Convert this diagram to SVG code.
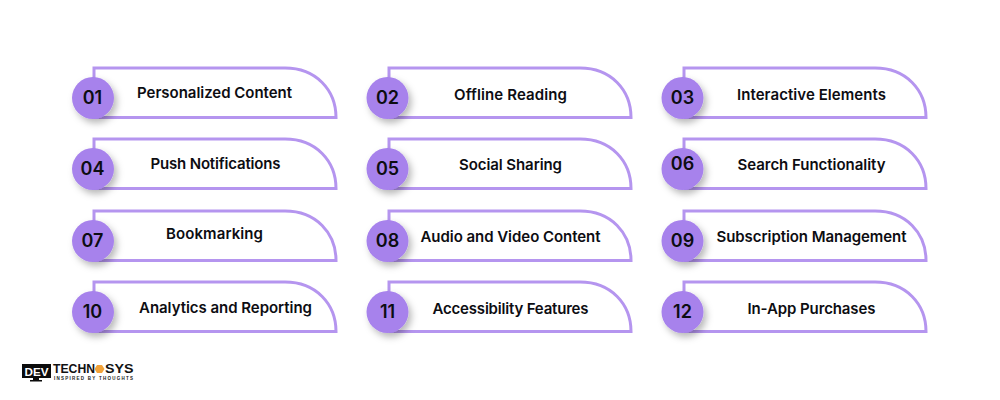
<svg xmlns="http://www.w3.org/2000/svg" width="1000" height="400" viewBox="0 0 1000 400">
<defs>
<filter id="sh" x="-40%" y="-40%" width="190%" height="190%"><feDropShadow dx="3" dy="4" stdDeviation="3.5" flood-color="#000" flood-opacity="0.28"/></filter>
<path id="card" d="M0 10V0H191C222 0 242 22 242 49.500H0" fill="none" stroke="#b595ef" stroke-width="3"/>
</defs>
<style>
.c{fill:#a782ec;filter:url(#sh)}
.l{font-family:"Inter","Liberation Sans",sans-serif;font-weight:600;font-size:15px;fill:#0d0d12;text-anchor:middle}
.n{font-family:"Inter","Liberation Sans",sans-serif;font-weight:600;font-size:18px;fill:#0d0d12;text-anchor:middle}
.b{font-family:"Liberation Sans",sans-serif;font-weight:700;fill:#111}
</style>
<rect width="1000" height="400" fill="#fff"/>
<g id="node-01"><use href="#card" x="94" y="68"/><circle class="c" cx="93" cy="98" r="21"/><text class="n" x="92.500" y="104">01</text><text class="l" x="214.500" y="98" textLength="155">Personalized Content</text></g>
<g id="node-02"><use href="#card" x="389" y="68"/><circle class="c" cx="387.500" cy="98" r="21"/><text class="n" x="387.500" y="104">02</text><text class="l" x="510.500" y="100" textLength="113">Offline Reading</text></g>
<g id="node-03"><use href="#card" x="684" y="68"/><circle class="c" cx="682.500" cy="98" r="21"/><text class="n" x="682.500" y="104">03</text><text class="l" x="811.500" y="100" textLength="149">Interactive Elements</text></g>
<g id="node-04"><use href="#card" x="94" y="139"/><circle class="c" cx="93" cy="169" r="21"/><text class="n" x="92.500" y="175">04</text><text class="l" x="215.500" y="169" textLength="130">Push Notifications</text></g>
<g id="node-05"><use href="#card" x="389" y="139"/><circle class="c" cx="387.500" cy="169" r="21"/><text class="n" x="387.500" y="175">05</text><text class="l" x="510.500" y="170" textLength="103">Social Sharing</text></g>
<g id="node-06"><use href="#card" x="684" y="139"/><circle class="c" cx="682.500" cy="169" r="21"/><text class="n" x="682.500" y="170">06</text><text class="l" x="811.500" y="170" textLength="148">Search Functionality</text></g>
<g id="node-07"><use href="#card" x="94" y="211"/><circle class="c" cx="93" cy="241" r="21"/><text class="n" x="92.500" y="247">07</text><text class="l" x="214.500" y="239" textLength="97">Bookmarking</text></g>
<g id="node-08"><use href="#card" x="389" y="211"/><circle class="c" cx="387.500" cy="241" r="21"/><text class="n" x="387.500" y="247">08</text><text class="l" x="510.500" y="242" textLength="180">Audio and Video Content</text></g>
<g id="node-09"><use href="#card" x="684" y="211"/><circle class="c" cx="682.500" cy="241" r="21"/><text class="n" x="682.500" y="247">09</text><text class="l" x="811.500" y="242" textLength="190">Subscription Management</text></g>
<g id="node-10"><use href="#card" x="94" y="282"/><circle class="c" cx="93" cy="312" r="21"/><text class="n" x="92.500" y="318">10</text><text class="l" x="225.500" y="313" textLength="173">Analytics and Reporting</text></g>
<g id="node-11"><use href="#card" x="389" y="282"/><circle class="c" cx="387.500" cy="312" r="21"/><text class="n" x="387.500" y="318">11</text><text class="l" x="510.500" y="314" textLength="156">Accessibility Features</text></g>
<g id="node-12"><use href="#card" x="684" y="282"/><circle class="c" cx="682.500" cy="312" r="21"/><text class="n" x="682.500" y="318">12</text><text class="l" x="811.500" y="314" textLength="128">In-App Purchases</text></g>
<g id="logo">
<rect x="22" y="364" width="29" height="14" fill="#0b0b0b"/>
<path d="M33 378h6v2h3v1.500h-12v-1.500h3z" fill="#0b0b0b"/>
<text x="36.500" y="375.500" font-family="Liberation Sans,sans-serif" font-weight="700" font-size="11.500" fill="#fff" text-anchor="middle" textLength="24" lengthAdjust="spacingAndGlyphs">DEV</text>
<text class="b" x="53" y="373" font-size="12" textLength="42" lengthAdjust="spacingAndGlyphs">TECHN</text>
<polygon points="97,365 102,365 104.500,369 102,373 97,373 94.500,369" fill="#f2a33a"/>
<text class="b" x="105" y="373" font-size="12" textLength="28.500" lengthAdjust="spacingAndGlyphs">SYS</text>
<text x="54" y="380" font-family="Liberation Sans,sans-serif" font-weight="700" font-size="4.500" fill="#222" textLength="79">INSPIRED BY THOUGHTS</text>
</g>
</svg>
